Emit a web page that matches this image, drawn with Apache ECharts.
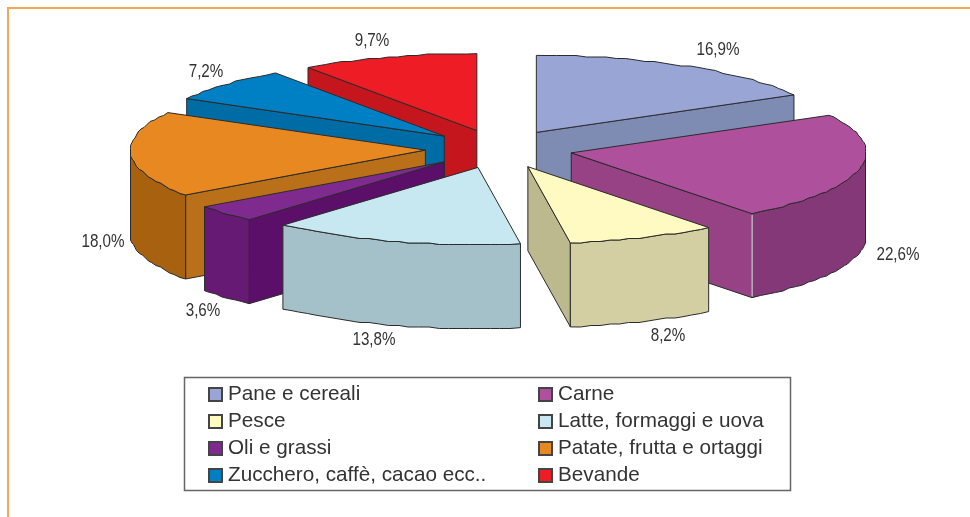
<!DOCTYPE html>
<html>
<head>
<meta charset="utf-8">
<style>html,body{margin:0;padding:0;background:#fff}#c{width:970px;height:517px}</style>
<script src="https://cdn.jsdelivr.net/npm/echarts@6/dist/echarts.min.js"></script>
</head>
<body>
<div id="c"></div>
<script>
const categories = ['Pane e cereali','Carne','Pesce','Latte, formaggi e uova','Oli e grassi','Patate, frutta e ortaggi','Zucchero, caffè, cacao ecc..','Bevande'];
const values = [16.9,22.6,8.2,13.8,3.6,18.0,7.2,9.7];

const topColors  = ['#99A5D4','#AF509C','#FFF9C2','#C7E8F0','#7F2A8E','#E88820','#0080C4','#EE1C25'];
const wallColors = ['#7E8BB3','#964284','#BDB98F','#A4C1CA','#5B0F68','#BA7019','#006CA5','#C4161C'];
const rimColors  = ['#7E8BB3','#853877','#D3CFA3','#A4C1CA','#661A73','#A8620F','#006CA5','#C4161C'];
const paintOrder = [0,7,6,5,4,1,3,2];
const labelCenters = [[718,50],[898,255],[668,336],[374,340],[203,311],[103,242],[206,72],[372,41]];

const CX=499, CY=149, RX=295, RY=77, DEPTH=84, EXPLODE=0.25, GRID=1.5, STEP=0.035;
const total = values.reduce((a,b)=>a+b,0);
const starts = []; values.reduce((acc,v,i)=>{starts[i]=acc;return acc+v;},0);
const rad = v => v/total*Math.PI*2;

function pt(a,ax,ay){return [ax+RX*Math.sin(a), ay-RY*Math.cos(a)];}
/* the printed pie has a slightly stepped rim: snap inner rim points to a coarse grid */
function arc(a0,a1,ax,ay){
  const n=Math.max(2,Math.ceil((a1-a0)/STEP)),out=[];
  for(let i=0;i<=n;i++){
    const a=a0+(a1-a0)*i/n, p=pt(a,ax,ay);
    if(i>0&&i<n){p[0]=Math.round(p[0]/GRID)*GRID;p[1]=Math.round(p[1]/GRID)*GRID;}
    out.push({a,p});
  }
  return out;
}
const edge={stroke:'#2b2b2b',lineWidth:1,lineJoin:'round'};
function poly(points,fill){return {type:'polygon',shape:{points},style:Object.assign({fill},edge)};}
function wall(a,ax,ay,fill){
  const p=pt(a,ax,ay);
  return poly([[ax,ay],p,[p[0],p[1]+DEPTH],[ax,ay+DEPTH]],fill);
}

function sliceRenderer(i){
  return function(params,api){
    const v=api.value(0);
    const a0=rad(starts[i]), a1=a0+rad(v), mid=(a0+a1)/2;
    const ax=CX+EXPLODE*RX*Math.sin(mid), ay=CY-EXPLODE*RY*Math.cos(mid);
    const children=[];
    if(a0>=Math.PI) children.push(wall(a0,ax,ay,wallColors[i]));
    if(a1<=Math.PI) children.push(wall(a1,ax,ay,wallColors[i]));
    const rimArc=arc(a0,a1,ax,ay);
    const front=rimArc.filter(o=>o.a>=Math.PI/2-0.02&&o.a<=Math.PI*1.5+0.02).map(o=>o.p);
    if(front.length>1){
      children.push(poly(front.concat(front.map(p=>[p[0],p[1]+DEPTH]).reverse()),rimColors[i]));
    }
    children.push(poly([[ax,ay]].concat(rimArc.map(o=>o.p)),topColors[i]));
    if(i===1){
      const p=pt(a1,ax,ay);
      children.push({type:'line',shape:{x1:p[0],y1:p[1]+1,x2:p[0],y2:p[1]+DEPTH-1},style:{stroke:'#ffffff',lineWidth:1}});
    }
    children.push({type:'text',x:labelCenters[i][0],y:labelCenters[i][1],scaleX:0.8,style:{
      text:v.toFixed(1).replace('.',',')+'%',
      x:0,y:0,align:'center',verticalAlign:'middle',
      font:'19px "Liberation Sans",sans-serif',fill:'#333333'}});
    return {type:'group',children};
  };
}

const series=paintOrder.map(i=>({
  type:'custom',name:categories[i],coordinateSystem:'none',silent:true,animation:false,
  data:[[values[i]]],renderItem:sliceRenderer(i),
  itemStyle:{color:topColors[i],borderColor:'#444',borderWidth:1}
}));

const legendBase={orient:'vertical',icon:'rect',itemWidth:13,itemHeight:13,itemGap:6,padding:0,top:384,selectedMode:false,
  textStyle:{fontFamily:'"Liberation Sans",sans-serif',fontSize:20.7,color:'#333333',lineHeight:20,padding:[0,0,0,1]}};

const chart=echarts.init(document.getElementById('c'),null,{renderer:'canvas'});
chart.setOption({
  animation:false,backgroundColor:'#ffffff',
  legend:[
    Object.assign({},legendBase,{left:208,data:categories.filter((_,i)=>i%2===0)}),
    Object.assign({},legendBase,{left:538,data:categories.filter((_,i)=>i%2===1)})
  ],
  graphic:[
    {type:'polyline',z:-1,shape:{points:[[8,517],[8,8],[970,8]]},style:{stroke:'#F2A65A',lineWidth:2,fill:null}},
    {type:'rect',z:-1,shape:{x:184.5,y:377.5,width:606,height:113},style:{fill:'#fff',stroke:'#666',lineWidth:1.5}}
  ],
  series
});
</script>
</body>
</html>
